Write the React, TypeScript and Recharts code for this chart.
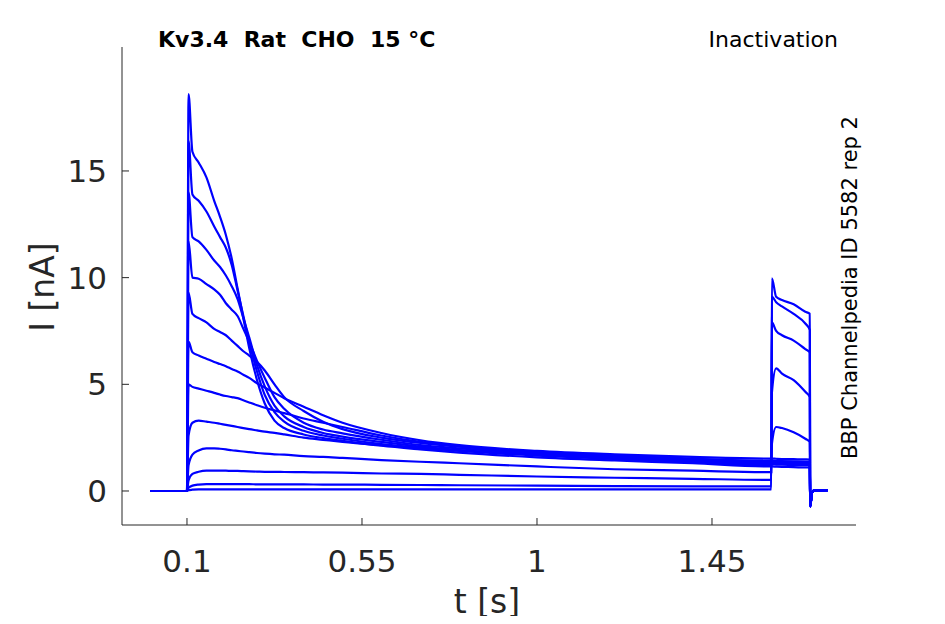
import React from 'react';
import { LineChart, Line, XAxis, YAxis } from 'recharts';

// time points (s)
const T = [0.005, 0.1, 0.104, 0.114, 0.13, 0.15, 0.17, 0.185, 0.2, 0.215, 0.23, 0.245, 0.26, 0.28, 0.3, 0.325, 0.35, 0.4, 0.45, 0.5, 0.6, 0.7, 0.8, 1.0, 1.2, 1.4, 1.6025, 1.604, 1.615, 1.63, 1.66, 1.69, 1.7015, 1.7025, 1.707, 1.712, 1.748];

// current traces (nA)
const c1 = [0, 0, 18.6, 15.9, 15.4, 14.7, 13.6, 12.85, 12.0, 10.9, 9.5, 8.1, 6.7, 5.2, 4.1, 3.3, 2.95, 2.65, 2.48, 2.35, 2.12, 1.95, 1.8, 1.58, 1.43, 1.3, 1.15, 1.15, 1.14, 1.13, 1.12, 1.1, 1.1, -0.72, -0.1, 0.03, 0.04];
const c2 = [0, 0, 16.4, 13.9, 13.6, 13.1, 12.4, 11.9, 11.4, 10.6, 9.4, 8.2, 7.0, 5.6, 4.5, 3.7, 3.25, 2.82, 2.6, 2.45, 2.2, 2.02, 1.88, 1.66, 1.5, 1.38, 1.25, 1.25, 1.24, 1.23, 1.22, 1.2, 1.2, -0.72, -0.1, 0.03, 0.04];
const c3 = [0, 0, 14.0, 11.9, 11.7, 11.3, 10.8, 10.5, 10.1, 9.6, 9.0, 8.1, 7.2, 5.9, 4.9, 4.0, 3.5, 3.0, 2.72, 2.55, 2.3, 2.08, 1.92, 1.72, 1.56, 1.42, 1.3, 1.3, 1.29, 1.28, 1.27, 1.26, 1.25, -0.72, -0.1, 0.03, 0.04];
const c4 = [0, 0, 11.7, 10.0, 9.95, 9.7, 9.45, 9.2, 8.8, 8.5, 8.2, 7.6, 7.0, 6.1, 5.3, 4.4, 3.85, 3.2, 2.88, 2.7, 2.4, 2.15, 2.0, 1.76, 1.6, 1.48, 1.35, 1.35, 1.34, 1.33, 1.32, 1.31, 1.3, -0.72, -0.1, 0.03, 0.04];
const c5 = [0, 0, 9.3, 8.3, 8.1, 7.9, 7.6, 7.45, 7.3, 7.05, 6.8, 6.55, 6.35, 6.05, 5.65, 5.0, 4.4, 3.75, 3.25, 2.9, 2.5, 2.25, 2.08, 1.82, 1.66, 1.52, 1.4, 1.4, 1.39, 1.38, 1.37, 1.36, 1.35, -0.72, -0.1, 0.03, 0.04];
const c6 = [0, 0, 7.0, 6.5, 6.35, 6.2, 6.05, 5.95, 5.85, 5.72, 5.6, 5.45, 5.3, 5.05, 4.85, 4.6, 4.35, 3.95, 3.55, 3.2, 2.72, 2.38, 2.15, 1.88, 1.72, 1.6, 1.52, 1.52, 1.51, 1.5, 1.49, 1.48, 1.47, -0.72, -0.1, 0.03, 0.04];
const c7 = [0, 0, 5.0, 4.88, 4.8, 4.7, 4.6, 4.52, 4.45, 4.4, 4.35, 4.25, 4.15, 4.02, 3.9, 3.78, 3.65, 3.4, 3.2, 3.0, 2.6, 2.3, 2.1, 1.82, 1.64, 1.5, 1.42, 1.42, 1.41, 1.4, 1.39, 1.38, 1.37, -0.72, -0.1, 0.03, 0.04];
const c8 = [0, 0, 2.6, 3.2, 3.3, 3.25, 3.2, 3.15, 3.1, 3.05, 3.0, 2.95, 2.9, 2.84, 2.78, 2.72, 2.65, 2.5, 2.4, 2.3, 2.15, 2.02, 1.9, 1.7, 1.5, 1.35, 1.2, 2.2, 3.0, 2.95, 2.75, 2.45, 2.3, -0.72, -0.1, 0.03, 0.04];
const c9 = [0, 0, 1.2, 1.7, 1.9, 2.0, 2.0, 1.98, 1.95, 1.91, 1.88, 1.85, 1.82, 1.78, 1.75, 1.72, 1.7, 1.63, 1.6, 1.55, 1.45, 1.37, 1.3, 1.15, 1.02, 0.95, 0.88, 4.6, 5.75, 5.5, 5.2, 4.65, 4.4, -0.72, -0.1, 0.03, 0.04];
const c10 = [0, 0, 0.5, 0.8, 0.9, 0.95, 0.95, 0.95, 0.95, 0.94, 0.94, 0.93, 0.92, 0.91, 0.9, 0.9, 0.89, 0.88, 0.87, 0.86, 0.82, 0.8, 0.76, 0.68, 0.62, 0.57, 0.52, 7.9, 7.5, 7.3, 7.05, 6.65, 6.5, -0.72, -0.1, 0.03, 0.04];
const c11 = [0, 0, 0.15, 0.25, 0.3, 0.32, 0.32, 0.32, 0.32, 0.32, 0.32, 0.32, 0.32, 0.31, 0.31, 0.31, 0.31, 0.31, 0.3, 0.3, 0.29, 0.28, 0.27, 0.25, 0.23, 0.22, 0.22, 9.1, 8.85, 8.65, 8.3, 7.85, 7.55, -0.72, -0.1, 0.03, 0.04];
const c12 = [0, 0, 0.04, 0.06, 0.08, 0.08, 0.08, 0.08, 0.08, 0.08, 0.08, 0.08, 0.08, 0.08, 0.08, 0.08, 0.08, 0.08, 0.08, 0.08, 0.08, 0.08, 0.08, 0.08, 0.08, 0.08, 0.08, 9.97, 9.1, 8.95, 8.75, 8.4, 8.3, -0.72, -0.1, 0.03, 0.04];

const SERIES = [c1, c2, c3, c4, c5, c6, c7, c8, c9, c10, c11, c12];
const X_TICKS = [0.1, 0.55, 1, 1.45];
const Y_TICKS = [0, 5, 10, 15];

const data = T.map((t, i) => {
  const row: Record<string, number> = { t };
  SERIES.forEach((s, k) => {
    row['c' + (k + 1)] = s[i];
  });
  return row;
});

const FONT = 'DejaVu Sans';
const INK = '#262626';

const XTick = (props: any) => {
  const { x, y, payload } = props;
  return (
    <g>
      <line x1={x} y1={y} x2={x} y2={y - 7} stroke={INK} strokeWidth={1} />
      <text x={x} y={y + 47} textAnchor="middle" fontSize={31} fill={INK} fontFamily={FONT}>
        {String(payload.value)}
      </text>
    </g>
  );
};

const YTick = (props: any) => {
  const { x, y, payload } = props;
  return (
    <g>
      <line x1={x} y1={y} x2={x + 7} y2={y} stroke={INK} strokeWidth={1} />
      <text x={x - 15} y={y + 11} textAnchor="end" fontSize={31} fill={INK} fontFamily={FONT}>
        {String(payload.value)}
      </text>
    </g>
  );
};

export default function App() {
  const W = 929;
  const H = 608;
  return (
    <div style={{ position: 'relative', width: W, height: H }}>
      <LineChart width={W} height={H} data={data} margin={{ top: 39, right: 81, bottom: 61, left: 54 }}>
        <XAxis
          dataKey="t"
          type="number"
          domain={[-0.0671, 1.8203]}
          allowDataOverflow
          ticks={X_TICKS}
          interval={0}
          height={30}
          tickSize={0}
          tickMargin={0}
          tick={<XTick />}
          axisLine={{ stroke: INK, strokeWidth: 1 }}
          tickLine={false}
        />
        <YAxis
          type="number"
          domain={[-1.594, 20.81]}
          allowDataOverflow
          ticks={Y_TICKS}
          interval={0}
          width={60}
          tickSize={0}
          tickMargin={0}
          tick={<YTick />}
          axisLine={{ stroke: INK, strokeWidth: 1 }}
          tickLine={false}
        />
        {SERIES.map((_, k) => (
          <Line
            key={k}
            dataKey={'c' + (k + 1)}
            type="monotone"
            stroke="#0000ff"
            strokeWidth={2.2}
            dot={false}
            activeDot={false}
            isAnimationActive={false}
          />
        ))}
      </LineChart>
      <svg
        width={W}
        height={H + 8}
        style={{ position: 'absolute', left: 0, top: 0, pointerEvents: 'none', overflow: 'visible' }}
      >
        <text x={150} y={38.7} fontSize={22} fontWeight="bold" fill="#000" fontFamily={FONT} style={{ whiteSpace: 'pre' }}>
          {'Kv3.4  Rat  CHO  15 °C'}
        </text>
        <text x={830} y={38.7} fontSize={22} fill="#000" fontFamily={FONT} textAnchor="end">
          Inactivation
        </text>
        <text
          x={849}
          y={279.5}
          fontSize={21}
          fill="#000"
          fontFamily={FONT}
          textAnchor="middle"
          transform="rotate(-90 849 279.5)"
        >
          BBP Channelpedia ID 5582 rep 2
        </text>
        <text x={479} y={605} fontSize={33} fill={INK} fontFamily={FONT} textAnchor="middle">
          t [s]
        </text>
        <text
          x={46}
          y={279}
          fontSize={33}
          fill={INK}
          fontFamily={FONT}
          textAnchor="middle"
          transform="rotate(-90 46 279)"
        >
          I [nA]
        </text>
      </svg>
    </div>
  );
}
